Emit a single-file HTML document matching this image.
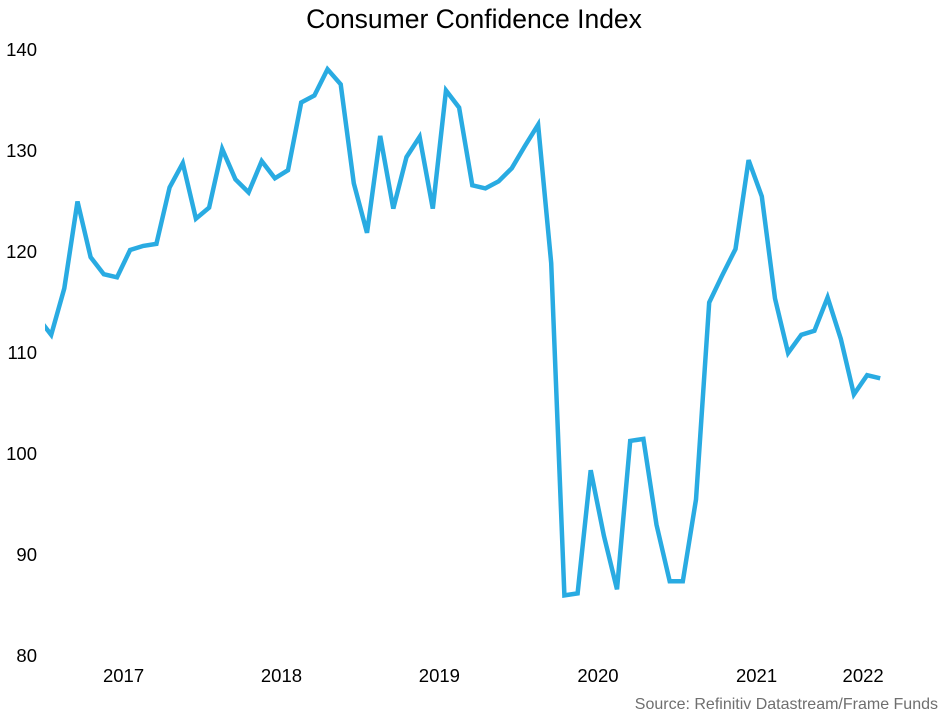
<!DOCTYPE html>
<html><head><meta charset="utf-8"><style>
body{margin:0;background:#fff;font-family:"Liberation Sans",sans-serif;}
svg{display:block}
</style></head><body>
<svg id="chart" width="944" height="712">
<defs><clipPath id="plotclip"><rect x="45" y="0" width="899" height="712"/></clipPath></defs>
<text x="474" y="28" text-anchor="middle" font-size="26.5" fill="#000">Consumer Confidence Index</text>
<g id="yaxis"></g>
<g id="xaxis"></g>
<g clip-path="url(#plotclip)"><path id="line" fill="none" stroke="#29abe2" stroke-width="4.5" stroke-linejoin="miter"/></g>
<text x="938" y="709" text-anchor="end" font-size="16" fill="#6f6f6f">Source: Refinitiv Datastream/Frame Funds</text>
</svg>
<script>
const values=[113.5,111.8,116.4,125,119.5,117.8,117.5,120.2,120.6,120.8,126.4,128.8,123.3,124.4,130.2,127.2,125.9,129,127.3,128.1,134.8,135.5,138.1,136.6,126.8,121.9,131.5,124.3,129.4,131.4,124.3,136.0,134.3,126.6,126.3,127,128.3,130.5,132.6,118.9,86.0,86.2,98.4,91.9,86.6,101.3,101.5,93.0,87.4,87.4,95.5,115.0,117.7,120.3,129.1,125.5,115.4,110,111.8,112.2,115.5,111.4,105.9,107.8,107.5];
const yTicks=[80,90,100,110,120,130,140];
const xLabels=["2017","2018","2019","2020","2021","2022"];
const xLabelIdx=[6.5,18.5,30.5,42.55,54.6,62.7];
const NS="http://www.w3.org/2000/svg";
function yScale(v){return 656-(v-80)*10.1;}
function xScale(i){return 38+i*13.16;}
const yg=document.getElementById('yaxis');
yTicks.forEach(t=>{const e=document.createElementNS(NS,'text');


e.setAttribute('x',37);e.setAttribute('y',yScale(t)+6);e.setAttribute('text-anchor','end');e.setAttribute('font-size','18.5');e.textContent=t;yg.appendChild(e);});
const xg=document.getElementById('xaxis');
xLabels.forEach((l,k)=>{const e=document.createElementNS(NS,'text');


e.setAttribute('x',xScale(xLabelIdx[k]));e.setAttribute('y',682);e.setAttribute('text-anchor','middle');e.setAttribute('font-size','18.5');e.textContent=l;xg.appendChild(e);});
document.getElementById('line').setAttribute('d',values.map((v,i)=>(i?'L':'M')+xScale(i).toFixed(1)+','+yScale(v).toFixed(1)).join(' '));
</script>
</body></html>
